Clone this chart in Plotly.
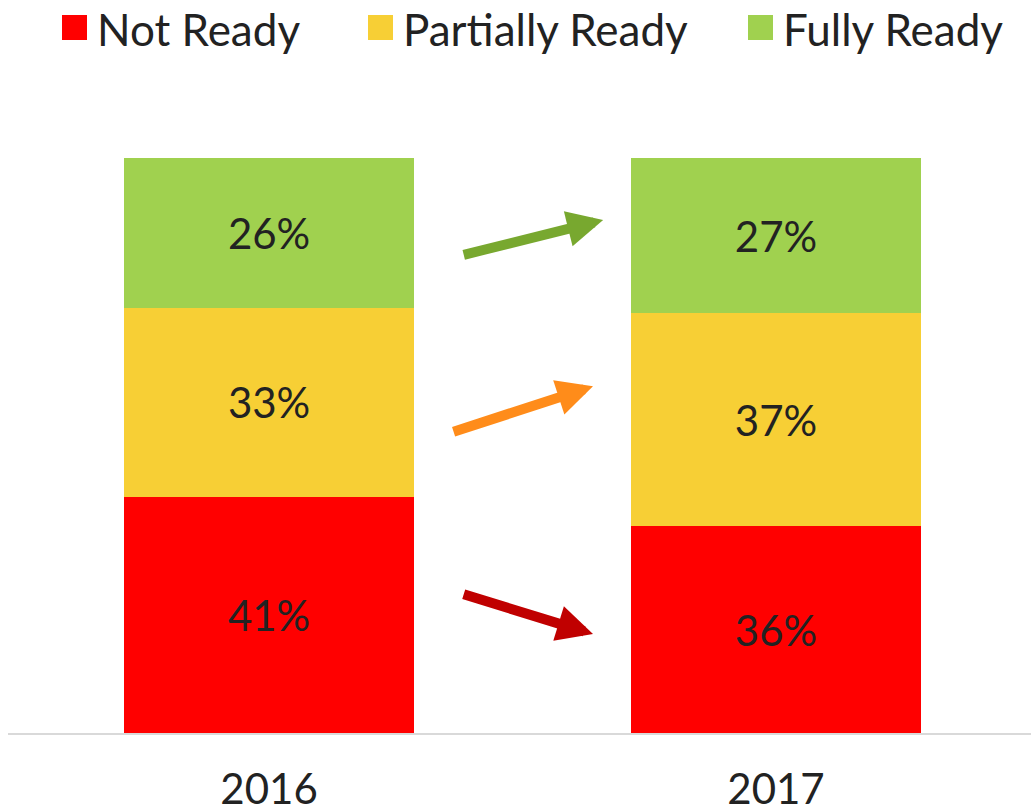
import plotly.graph_objects as go

years = ["2016", "2017"]
not_ready = [41, 36]
partially_ready = [33, 37]
fully_ready = [26, 27]
series_names = ["Not Ready", "Partially Ready", "Fully Ready"]

colors = ["#FF0000", "#F7CF35", "#A0D14F"]
FONT = "Lato, 'Open Sans', sans-serif"
W, H = 1031, 812
ML, MR, MT, MB = 8, 0, 158, 79

fig = go.Figure()
for name, vals, col in zip(series_names, [not_ready, partially_ready, fully_ready], colors):
    fig.add_trace(go.Bar(
        name=name, x=years, y=vals, marker=dict(color=col, line=dict(width=0)),
        text=[f"{v}%" for v in vals], textposition="inside", insidetextanchor="middle",
        textfont=dict(size=42, color="#222222", family=FONT), width=0.572,
        hoverinfo="skip", showlegend=False,
    ))

# decorative trend arrows (tail x, tail y, tip x, tip y, colour) in axis units
arrows = [
    (0.381, 83.1, 0.659, 89.2, "#78A82F"),
    (0.361, 52.3, 0.639, 60.3, "#FF8C1A"),
    (0.381, 24.2, 0.639, 17.2, "#C00000"),
]
for ax_, ay_, x_, y_, c in arrows:
    fig.add_annotation(x=x_, y=y_, ax=ax_, ay=ay_, xref="x", yref="y", axref="x", ayref="y",
                       text="", showarrow=True, arrowhead=2, arrowsize=0.72, arrowwidth=10,
                       arrowcolor=c, standoff=0)

# legend drawn as swatches + labels (pixel layout -> paper coords)
pw, ph = W - ML - MR, H - MT - MB
def px(x):
    return (x - ML) / pw
def py(y):
    return (H - MB - y) / ph

legend_swatch_left = [62, 368, 748]
for name, col, sx in zip(series_names, colors, legend_swatch_left):
    fig.add_shape(type="rect", xref="paper", yref="paper", x0=px(sx), x1=px(sx + 25),
                  y0=py(40), y1=py(15), fillcolor=col, line=dict(width=0))
    fig.add_annotation(x=px(sx + 33), y=py(29), xref="paper", yref="paper", text=name,
                       showarrow=False, xanchor="left", yanchor="middle",
                       font=dict(size=44, color="#222222", family=FONT))

fig.update_layout(
    barmode="stack",
    width=W, height=H,
    margin=dict(l=ML, r=MR, t=MT, b=MB),
    paper_bgcolor="white", plot_bgcolor="white",
    font=dict(family=FONT, color="#222222"),
    showlegend=False,
    xaxis=dict(type="category", range=[-0.515, 1.503], showline=True, linecolor="#D9D9D9",
               linewidth=2, ticks="", tickfont=dict(size=42, color="#222222", family=FONT),
               ticklabelstandoff=19, automargin=False,
               showgrid=False, zeroline=False, fixedrange=True),
    yaxis=dict(range=[0, 100], visible=False, showgrid=False, zeroline=False, fixedrange=True),
)

fig.write_html("out.html", config={"displayModeBar": False},
               post_script="document.body.style.margin='0';")
